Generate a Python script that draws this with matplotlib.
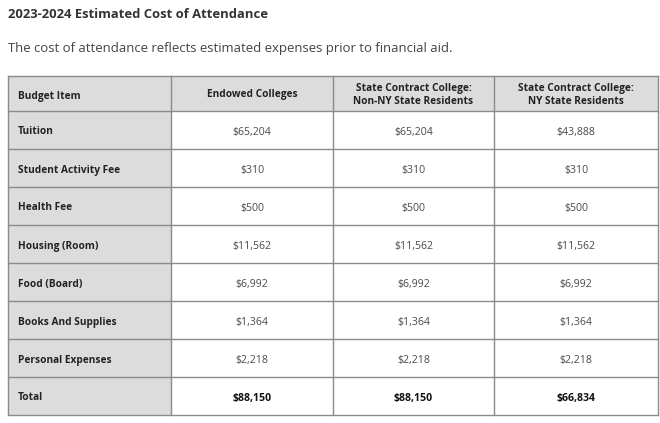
import matplotlib
matplotlib.use("Agg")
import matplotlib.pyplot as plt
from matplotlib.patches import Rectangle

title = "2023-2024 Estimated Cost of Attendance"
subtitle = "The cost of attendance reflects estimated expenses prior to financial aid."
headers = ["Budget Item", "Endowed Colleges",
           "State Contract College:\nNon-NY State Residents",
           "State Contract College:\nNY State Residents"]
items = ["Tuition", "Student Activity Fee", "Health Fee", "Housing (Room)",
         "Food (Board)", "Books And Supplies", "Personal Expenses", "Total"]
endowed = [65204, 310, 500, 11562, 6992, 1364, 2218, 88150]
non_ny = [65204, 310, 500, 11562, 6992, 1364, 2218, 88150]
ny = [43888, 310, 500, 11562, 6992, 1364, 2218, 66834]

plt.rcParams['font.family'] = ['Open Sans', 'DejaVu Sans']

W, H = 660, 423
fig = plt.figure(figsize=(6.6, 4.23), dpi=100)
ax = fig.add_axes([0, 0, 1, 1])
ax.set_xlim(0, W)
ax.set_ylim(H, 0)
ax.axis('off')

ax.text(8, 13, title, fontsize=9.4, fontweight='bold', color='#333333',
        va='center_baseline', ha='left')
ax.text(8, 47, subtitle, fontsize=9.45, color='#444444', va='center_baseline', ha='left')

col_x = [8, 171, 333, 494, 658]
top = 76
head_h = 35
row_h = 38
row_y = [top, top + head_h] + [top + head_h + row_h * (i + 1) for i in range(len(items))]

gray = '#dcdcdc'
line_c = '#8a8a8a'
ax.add_patch(Rectangle((col_x[0], row_y[0]), col_x[-1] - col_x[0], head_h,
                       facecolor=gray, edgecolor='none'))
ax.add_patch(Rectangle((col_x[0], row_y[1]), col_x[1] - col_x[0], row_y[-1] - row_y[1],
                       facecolor=gray, edgecolor='none'))
for y in row_y:
    ax.plot([col_x[0], col_x[-1]], [y, y], color=line_c, lw=1.0)
for x in col_x:
    ax.plot([x, x], [row_y[0], row_y[-1]], color=line_c, lw=1.0)

fs = 7.3
for j, h in enumerate(headers):
    cy = (row_y[0] + row_y[1]) / 2 + 1.5
    if j == 0:
        ax.text(col_x[0] + 10, cy, h, fontsize=fs, fontweight='bold', color='#222222',
                va='center_baseline', ha='left')
    else:
        ax.text((col_x[j] + col_x[j + 1]) / 2, cy, h, fontsize=fs, fontweight='bold',
                color='#222222', va='center', ha='center', linespacing=1.35)

cols = [endowed, non_ny, ny]
for i, it in enumerate(items):
    cy = (row_y[i + 1] + row_y[i + 2]) / 2 + 0.5
    is_total = (it == "Total")
    ax.text(col_x[0] + 10, cy, it, fontsize=fs, fontweight='bold', color='#222222',
            va='center_baseline', ha='left')
    for j, c in enumerate(cols):
        ax.text((col_x[j + 1] + col_x[j + 2]) / 2, cy, f"${c[i]:,}", fontsize=7.6,
                fontweight='bold' if is_total else 'normal',
                color='#111111' if is_total else '#4a4a4a', va='center_baseline', ha='center')

fig.savefig("out.png", dpi=100)
